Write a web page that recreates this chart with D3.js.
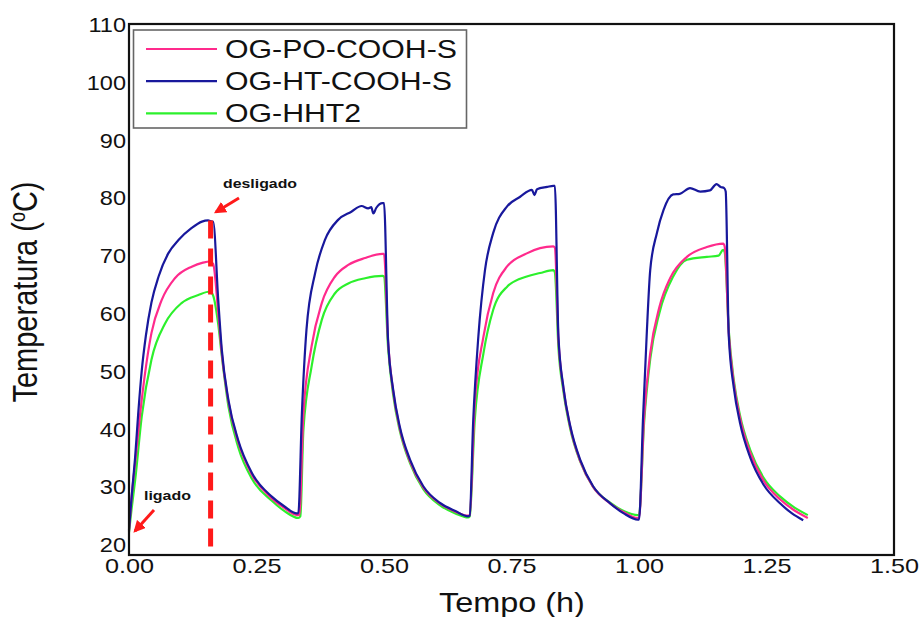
<!DOCTYPE html>
<html>
<head>
<meta charset="utf-8">
<script src="https://cdn.jsdelivr.net/npm/d3@7"></script>
<style>
html,body{margin:0;padding:0;background:#fff;}
svg{display:block;}
text{font-family:"Liberation Sans",Arial,sans-serif;fill:#111;}
</style>
</head>
<body>
<svg id="chart" width="921" height="617"></svg>
<script>
// ---------------- DATA ----------------
const seriesNames = ["OG-PO-COOH-S", "OG-HT-COOH-S", "OG-HHT2"];
const seriesColors = ["#ff2a8c", "#18189c", "#2cf02c"];

const xTicks = [0, 0.25, 0.5, 0.75, 1.0, 1.25, 1.5];
const yTicks = [20, 30, 40, 50, 60, 70, 80, 90, 100, 110];

// [time (h), temperature (°C)]
const pinkPO = [
  [0,22.2],[0.005,28],[0.012,34],[0.025,45],[0.044,56.5],[0.064,62.2],[0.09,66],[0.123,68],[0.145,68.7],[0.159,68.9],
  [0.165,68.5],[0.175,60],[0.182,53],[0.195,44.6],[0.214,37.7],[0.241,32],[0.28,27.9],[0.305,26.2],[0.33,25],
  [0.334,25],[0.342,42.6],[0.358,54.2],[0.378,61.7],[0.404,66.3],[0.43,68.3],[0.463,69.5],[0.497,70.2],
  [0.5,70.2],[0.508,55],[0.518,46.4],[0.531,40],[0.551,34.3],[0.577,29.8],[0.61,27],[0.64,25.6],[0.665,24.9],
  [0.668,25],[0.678,44.4],[0.695,55.9],[0.714,63.4],[0.741,68],[0.78,70.3],[0.806,71.2],[0.832,71.5],
  [0.835,71.3],[0.842,55.5],[0.852,46.8],[0.865,40.3],[0.885,34.3],[0.91,29.9],[0.944,27],[0.97,25.5],[0.998,24.5],
  [1.0,24.5],[1.01,42],[1.022,53],[1.04,61],[1.061,66],[1.094,69.7],[1.133,71.4],[1.165,72],
  [1.168,71.5],[1.176,56.5],[1.186,47.8],[1.198,41.8],[1.218,35.8],[1.244,31],[1.277,27.7],[1.305,25.8],[1.331,24.5]
];
const blueHT = [
  [0,22.5],[0.004,27],[0.008,31],[0.012,35],[0.018,42.5],[0.025,50],[0.033,56],[0.044,61.8],[0.058,66.3],[0.077,70.3],[0.097,72.6],[0.123,74.7],[0.143,75.8],[0.155,76],[0.163,75.8],
  [0.165,75.8],[0.175,62.2],[0.182,53.6],[0.195,44.9],[0.214,38],[0.241,32.3],[0.28,28.2],[0.305,26.5],[0.329,25.3],
  [0.332,25.3],[0.339,42.6],[0.348,57.1],[0.365,66.9],[0.384,72.6],[0.41,76.1],[0.436,77.5],[0.456,78.5],[0.469,78.1],[0.475,78.3],[0.479,77.2],[0.485,78.2],[0.497,79],
  [0.5,79],[0.508,55.3],[0.518,46.7],[0.531,40.3],[0.551,34.6],[0.577,30],[0.61,27.1],[0.64,25.7],[0.665,24.8],
  [0.668,24.9],[0.675,41.5],[0.685,55.9],[0.698,67.4],[0.714,73.8],[0.741,78.4],[0.767,80.1],[0.79,81.3],[0.795,80.4],[0.8,81.4],[0.82,81.8],[0.832,82],
  [0.835,82],[0.842,56],[0.852,47],[0.865,40.5],[0.885,34.5],[0.91,30],[0.944,27],[0.97,25.3],[0.998,24.2],
  [1.0,24.2],[1.008,42],[1.015,56],[1.022,67.4],[1.035,73.8],[1.048,77.8],[1.067,80.5],[1.08,80.6],[1.1,81.6],[1.12,81],[1.139,81.2],[1.152,82.3],[1.16,81.8],[1.167,81.6],
  [1.17,81],[1.176,56],[1.186,47],[1.198,41],[1.218,35],[1.244,30.3],[1.277,27],[1.3,25.3],[1.322,24.1]
];
const greenHHT2 = [
  [0,22],[0.005,26],[0.012,31],[0.025,42.1],[0.044,51.9],[0.071,58.2],[0.103,61.7],[0.136,63.1],[0.159,63.7],
  [0.165,63],[0.175,58],[0.182,52.5],[0.195,43.8],[0.214,36.8],[0.241,31.3],[0.28,27.5],[0.305,25.7],[0.332,24.5],
  [0.336,24.8],[0.342,39.8],[0.358,50.7],[0.378,58.8],[0.404,63.4],[0.43,65.1],[0.463,66],[0.497,66.4],
  [0.5,66.3],[0.508,54],[0.518,45.8],[0.531,39.6],[0.551,34],[0.577,29.5],[0.61,26.7],[0.64,25.3],[0.665,24.6],
  [0.668,24.8],[0.678,41.5],[0.695,53],[0.714,60.5],[0.741,64.5],[0.78,66.3],[0.806,66.9],[0.832,67.4],
  [0.835,67],[0.842,54],[0.852,46.3],[0.865,40],[0.885,34.2],[0.91,29.9],[0.944,27.1],[0.97,25.7],[0.998,25],
  [1.0,25],[1.01,41],[1.022,52],[1.04,60],[1.067,66.3],[1.094,69.2],[1.133,69.7],[1.156,69.9],[1.165,70.9],
  [1.168,70.5],[1.176,57],[1.186,48.3],[1.198,42.3],[1.218,36.3],[1.244,31.5],[1.277,28.2],[1.305,26.3],[1.331,25]
];
const switchOffTime = 0.16;
const annotations = ["desligado", "ligado"];

// ---------------- CHART ----------------
const svg = d3.select("#chart");
const L = 129, R = 894, T = 24, B = 555;
const x = d3.scaleLinear().domain([0, 1.5]).range([L, R]);
const y = d3.scaleLinear().domain([18.1, 110]).range([B, T]);
const STRETCH = 1.2;

function stretch(sel, k) {
  sel.each(function () {
    const w = this.getComputedTextLength();
    d3.select(this).attr("textLength", w * k).attr("lengthAdjust", "spacingAndGlyphs");
  });
}

// Axes (labels only, no tick marks)
const gx = svg.append("g").attr("transform", `translate(0,${B})`)
  .call(d3.axisBottom(x).tickValues(xTicks).tickFormat(d3.format(".2f")).tickSize(0).tickPadding(0));
gx.select(".domain").remove();
gx.selectAll("text").attr("font-size", 21).attr("font-family", "Liberation Sans, Arial").attr("fill", "#111")
  .attr("dy", null).attr("y", 18);
stretch(gx.selectAll("text"), STRETCH);

const gy = svg.append("g").attr("transform", `translate(${L},0)`)
  .call(d3.axisLeft(y).tickValues(yTicks).tickFormat(d3.format("d")).tickSize(0).tickPadding(3));
gy.select(".domain").remove();
gy.selectAll("text").attr("font-size", 21).attr("font-family", "Liberation Sans, Arial").attr("fill", "#111")
  .attr("dy", "0.36em");
stretch(gy.selectAll("text"), 1.12);

// Lines
const line = d3.line().x(d => x(d[0])).y(d => y(d[1])).curve(d3.curveMonotoneX);
const drawOrder = [[greenHHT2, 2], [pinkPO, 0], [blueHT, 1]];
drawOrder.forEach(([data, i]) => {
  svg.append("path").datum(data).attr("d", line)
    .attr("fill", "none").attr("stroke", seriesColors[i]).attr("stroke-width", 2.2)
    .attr("stroke-linejoin", "round");
});

// Dashed switch-off line
svg.append("line")
  .attr("x1", x(switchOffTime)).attr("x2", x(switchOffTime))
  .attr("y1", y(76)).attr("y2", B)
  .attr("stroke", "#ff1a1a").attr("stroke-width", 5).attr("stroke-dasharray", "18,10");

// Frame
svg.append("rect").attr("x", L).attr("y", T).attr("width", R - L).attr("height", B - T)
  .attr("fill", "none").attr("stroke", "#111").attr("stroke-width", 2.2);

// Legend
const lg = svg.append("g");
lg.append("rect").attr("x", 133.5).attr("y", 30).attr("width", 333).attr("height", 98)
  .attr("fill", "#fff").attr("stroke", "#666").attr("stroke-width", 1.6);
seriesNames.forEach((name, i) => {
  const yy = 49 + i * 32.2;
  lg.append("line").attr("x1", 146).attr("x2", 217).attr("y1", yy).attr("y2", yy)
    .attr("stroke", seriesColors[i]).attr("stroke-width", 2.2);
  const t = lg.append("text").attr("x", 225).attr("y", yy + 9).attr("font-size", 25).text(name);
  stretch(t, 1.21);
});

// Axis titles
const xt = svg.append("text").attr("x", 512).attr("y", 612).attr("text-anchor", "middle")
  .attr("font-size", 27).text("Tempo (h)");
stretch(xt, STRETCH);

const yt = svg.append("text").attr("transform", "translate(37,292) rotate(-90) scale(1,1.18)")
  .attr("text-anchor", "middle").attr("font-size", 29);
yt.append("tspan").text("Temperatura (");
yt.append("tspan").attr("font-size", 18).attr("dy", -10).text("o");
yt.append("tspan").attr("dy", 10).text("C)");

// Annotations
const defs = svg.append("defs");
defs.append("marker").attr("id", "arrowhead").attr("viewBox", "0 0 10 10")
  .attr("refX", 8).attr("refY", 5).attr("markerWidth", 4).attr("markerHeight", 4)
  .attr("orient", "auto").attr("markerUnits", "strokeWidth")
  .append("path").attr("d", "M0,0 L10,5 L0,10 Z").attr("fill", "#ff1a1a");

svg.append("line").attr("x1", 239).attr("y1", 198).attr("x2", 216).attr("y2", 212)
  .attr("stroke", "#ff1a1a").attr("stroke-width", 3).attr("marker-end", "url(#arrowhead)");
svg.append("line").attr("x1", 154).attr("y1", 510).attr("x2", 135).attr("y2", 531)
  .attr("stroke", "#ff1a1a").attr("stroke-width", 3).attr("marker-end", "url(#arrowhead)");

const a1 = svg.append("text").attr("x", 223).attr("y", 188).attr("font-family", "Open Sans, DejaVu Sans")
  .attr("font-weight", "bold").attr("font-size", 13.5).text(annotations[0]);
a1.attr("textLength", 74).attr("lengthAdjust", "spacingAndGlyphs");
const a2 = svg.append("text").attr("x", 144).attr("y", 500).attr("font-family", "Open Sans, DejaVu Sans")
  .attr("font-weight", "bold").attr("font-size", 13.5).text(annotations[1]);
a2.attr("textLength", 47).attr("lengthAdjust", "spacingAndGlyphs");
</script>
</body>
</html>
